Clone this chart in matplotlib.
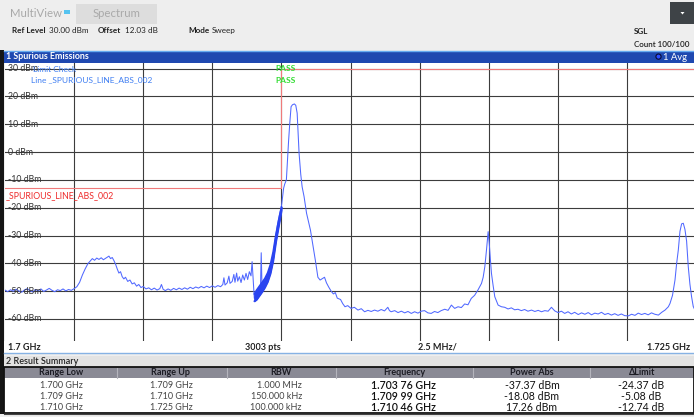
import numpy as np
import matplotlib
matplotlib.use("Agg")
import matplotlib.pyplot as plt
from matplotlib.patches import Rectangle, Circle, Polygon
from matplotlib.transforms import blended_transform_factory

plt.rcParams['font.family'] = ['Lato', 'DejaVu Sans']

# ---------------- data ----------------
start_ghz = 1.700
stop_ghz = 1.725
span_per_div_mhz = 2.5
ref_level = 30.0
y_ticks_dbm = [30, 20, 10, 0, -10, -20, -30, -40, -50, -60]

# trace: frequency offset from 1.700 GHz (MHz) and level (dBm)
trace_offset_mhz = [
    0.00, 0.10, 0.20, 0.30, 0.40, 0.50, 0.60, 0.70, 0.80, 0.90, 1.00, 1.10, 1.20, 1.30, 1.40,
    1.50, 1.60, 1.70, 1.80, 1.90, 2.00, 2.10, 2.20, 2.30, 2.40, 2.50, 2.60, 2.70, 2.80, 2.90,
    3.00, 3.08, 3.16, 3.24, 3.32, 3.40, 3.48, 3.56, 3.64, 3.70, 3.76, 3.82, 3.88, 3.94, 4.00,
    4.06, 4.12, 4.18, 4.24, 4.30, 4.36, 4.44, 4.52, 4.60, 4.68, 4.76, 4.84, 4.92, 5.00, 5.10,
    5.20, 5.30, 5.40, 5.50, 5.60, 5.66, 5.72, 5.80, 5.90, 6.00, 6.10, 6.20, 6.30, 6.40, 6.50,
    6.60, 6.70, 6.80, 6.90, 7.00, 7.10, 7.20, 7.30, 7.40, 7.50, 7.60, 7.70, 7.80, 7.88, 7.92,
    7.96, 8.04, 8.10, 8.14, 8.22, 8.28, 8.32, 8.38, 8.42, 8.48, 8.54, 8.60, 8.66, 8.72, 8.78,
    8.84, 8.90, 8.94, 8.98, 9.02, 9.10, 9.18, 9.24, 9.27, 9.30, 9.36, 9.44, 9.50, 9.60, 9.70,
    9.78, 9.86, 9.94, 10.00, 10.08, 10.12, 10.18, 10.22, 10.26, 10.30, 10.35, 10.40, 10.47,
    10.52, 10.57, 10.60, 10.64, 10.70, 10.75, 10.82, 10.91, 10.98, 11.05, 11.15, 11.23, 11.32,
    11.40, 11.48, 11.56, 11.63, 11.71, 11.80, 11.88, 11.95, 12.02, 12.14, 12.22, 12.30, 12.40,
    12.52, 12.64, 12.77, 12.89, 13.01, 13.13, 13.25, 13.37, 13.49, 13.61, 13.73, 13.85, 13.91,
    13.97, 14.10, 14.22, 14.34, 14.46, 14.58, 14.70, 14.82, 14.94, 15.06, 15.18, 15.30, 15.42,
    15.54, 15.66, 15.78, 15.91, 16.03, 16.15, 16.27, 16.39, 16.51, 16.63, 16.75, 16.87, 16.99,
    17.11, 17.24, 17.30, 17.36, 17.42, 17.48, 17.52, 17.56, 17.60, 17.66, 17.72, 17.84, 17.96,
    18.08, 18.20, 18.32, 18.44, 18.56, 18.68, 18.80, 18.92, 19.05, 19.17, 19.29, 19.41, 19.53,
    19.65, 19.77, 19.89, 20.01, 20.13, 20.25, 20.37, 20.49, 20.61, 20.74, 20.86, 20.98, 21.10,
    21.22, 21.34, 21.46, 21.58, 21.70, 21.82, 21.94, 22.06, 22.18, 22.30, 22.42, 22.55, 22.67,
    22.79, 22.91, 23.03, 23.15, 23.27, 23.39, 23.51, 23.64, 23.76, 23.88, 24.00, 24.06, 24.15,
    24.24, 24.30, 24.36, 24.42, 24.48, 24.54, 24.60, 24.66, 24.72, 24.78, 24.84, 24.90, 24.96,
    25.00,
]
trace_level_dbm = [
    -49.6, -50.2, -49.5, -50.0, -49.3, -49.9, -50.4, -49.6, -49.1, -49.8, -50.3, -49.4, -49.9, -49.2, -50.1,
    -49.6, -49.0, -49.7, -50.2, -49.5, -49.8, -49.2, -49.9, -49.4, -49.7, -49.1, -48.4, -46.8, -44.2, -42.0,
    -40.1, -39.2, -38.3, -38.9, -38.1, -38.6, -38.0, -38.7, -38.2, -37.8, -37.4, -38.3, -37.9, -39.0, -40.3,
    -42.0, -43.5, -43.0, -44.8, -45.6, -45.0, -46.5, -46.0, -47.4, -47.0, -48.2, -47.6, -48.7, -48.3, -49.2,
    -48.8, -49.5, -48.9, -49.6, -49.1, -47.6, -49.3, -49.8, -49.2, -49.7, -49.0, -49.5, -48.9, -49.4, -48.8,
    -49.3, -48.6, -49.1, -48.5, -48.9, -48.3, -48.8, -48.2, -48.7, -48.1, -48.6, -48.0, -48.4, -47.6, -45.2,
    -47.8, -47.0, -44.6, -47.2, -46.5, -44.0, -46.8, -43.5, -46.4, -44.8, -46.9, -44.2, -46.0, -43.6, -45.8,
    -43.0, -44.5, -39.4, -46.0, -52.6, -51.5, -50.6, -49.8, -36.2, -49.0, -48.2, -46.6, -44.8, -41.5, -37.0,
    -31.0, -26.0, -22.0, -19.7, -13.0, -11.5, -10.0, -3.0, 4.0, 10.0, 16.3, 17.0, 17.3,
    16.8, 14.0, 8.0, -0.5, -8.0, -12.5, -16.0, -22.0, -25.0, -28.0, -34.0, -39.0, -45.0,
    -46.0, -45.5, -45.0, -47.0, -48.5, -50.0, -51.0, -50.5, -52.5, -53.0, -54.5, -55.6, -55.2,
    -56.2, -55.8, -56.8, -56.3, -57.4, -56.9, -57.3, -56.8, -57.2, -56.6, -57.1, -55.8, -57.0,
    -57.4, -57.0, -57.7, -57.2, -57.8, -57.3, -58.0, -57.4, -57.9, -57.2, -57.0, -57.8, -58.0,
    -57.3, -57.7, -57.0, -56.5, -56.9, -55.0, -56.2, -55.6, -55.9, -54.6, -54.9, -52.6, -51.5,
    -49.6, -47.2, -45.0, -41.2, -35.2, -28.6, -32.8, -38.5, -43.6, -48.0, -52.0, -55.0, -55.6,
    -55.8, -56.4, -56.0, -56.7, -56.5, -57.0, -56.6, -57.2, -56.8, -57.3, -56.9, -57.4, -57.0,
    -57.2, -55.8, -57.1, -57.7, -57.2, -58.0, -57.4, -58.2, -57.6, -58.4, -57.8, -58.3, -57.7,
    -58.5, -57.9, -58.2, -57.6, -58.4, -58.0, -58.6, -58.1, -58.7, -58.2, -58.8, -58.9, -58.3,
    -58.7, -57.9, -58.4, -58.0, -58.5, -57.8, -58.3, -58.6, -57.6, -56.8, -55.6, -54.4, -51.5,
    -46.0, -40.0, -35.2, -28.5, -25.8, -25.6, -27.8, -32.0, -41.2, -47.5, -52.0, -55.5, -56.8,
    -57.2,
]

# dense (thick) part of the trace in the 150 kHz RBW range: envelope
dense_offset_mhz = [9.02, 9.10, 9.20, 9.30, 9.40, 9.50, 9.60, 9.70, 9.80, 9.90, 10.00]
dense_upper_dbm = [-51.0, -49.6, -48.2, -46.8, -45.4, -43.4, -40.4, -35.8, -29.6, -24.4, -19.7]
dense_lower_dbm = [-53.6, -53.0, -51.6, -50.2, -48.6, -46.6, -43.6, -39.0, -32.2, -26.6, -21.0]

# limit line
limit_offset_mhz = [0.0, 10.0, 10.0, 25.0]
limit_level_dbm = [-13.0, -13.0, 30.0, 30.0]

# result summary table
col_headers = ["Range Low", "Range Up", "RBW", "Frequency", "Power Abs", "\u0394Limit"]
range_low = ["1.700 GHz", "1.709 GHz", "1.710 GHz"]
range_up = ["1.709 GHz", "1.710 GHz", "1.725 GHz"]
rbw = ["1.000 MHz", "150.000 kHz", "100.000 kHz"]
frequency = ["1.703 76 GHz", "1.709 99 GHz", "1.710 46 GHz"]
power_abs = ["-37.37 dBm", "-18.08 dBm", "17.26 dBm"]
delta_limit = ["-24.37 dB", "-5.08 dB", "-12.74 dB"]

# ---------------- figure ----------------
W, H = 694, 417
fig = plt.figure(figsize=(W / 100, H / 100), dpi=100)

ui = fig.add_axes([0, 0, 1, 1], zorder=0)
ui.set_xlim(0, W)
ui.set_ylim(H, 0)
ui.axis("off")

ui_top = fig.add_axes([0, 0, 1, 1], zorder=3)
ui_top.set_xlim(0, W)
ui_top.set_ylim(H, 0)
ui_top.axis("off")

def rect(x, y, w, h, fc, ec="none", lw=0, z=1, ax=ui):
    ax.add_patch(Rectangle((x, y), w, h, facecolor=fc, edgecolor=ec, linewidth=lw, zorder=z))

def txt(x, y, s, ax=ui, **kw):
    kw.setdefault("va", "center")
    kw.setdefault("ha", "left")
    kw.setdefault("fontsize", 6.5)
    kw.setdefault("color", "#222222")
    kw.setdefault("zorder", 10)
    ax.text(x, y, s, **kw)

# backgrounds
rect(0, 0, W, H, "#eeeeee", z=0)
rect(76, 4, 81, 20, "#dddddd")
rect(64, 10, 6, 4, "#55c3f0")
rect(670, 2, 24, 22, "#3e4347")
ui.add_patch(Polygon([[680.5, 12], [684.5, 12], [682.5, 14.5]], closed=True, fc="white", ec="none", zorder=2))

txt(10, 13.5, "MultiView", fontsize=8.2, color="#a9a9a9")
txt(116.5, 13.5, "Spectrum", fontsize=8.2, color="#a9a9a9", ha="center")
txt(12, 30.5, "Ref Level", fontweight="bold", fontsize=5.9)
txt(49, 30.5, "30.00 dBm", fontsize=5.9)
txt(98, 30.5, "Offset", fontweight="bold", fontsize=5.9)
txt(125, 30.5, "12.03 dB", fontsize=5.9)
txt(188, 30.5, "Mode", fontweight="bold", fontsize=5.9)
txt(212, 30.5, "Sweep", fontsize=5.9)
txt(634, 31, "SGL", fontweight="bold", fontsize=5.9)
txt(634, 44, "Count 100/100", fontweight="semibold", fontsize=5.8)

# window 1 title bar
rect(0, 50, 4, 364, "#151515", z=2)
rect(4, 50.5, 690, 12, "#1f48b0")
ui.plot([4, 694], [50.8, 50.8], color="#66aaf0", lw=1.0, zorder=2)
txt(6, 56.8, "1 Spurious Emissions", color="white", fontweight="bold", fontsize=6.4)
ui.add_patch(Circle((658.5, 56.6), 2.6, facecolor="#2b4dff", edgecolor="#0a0a30", lw=0.8, zorder=3))
txt(663, 57, "1 Avg", color="white", fontsize=6.8)

# bottom strip of the diagram
rect(4, 341, 690, 12, "white")
ui.plot([4, 694], [353.2, 353.2], color="#86b2e4", lw=1.0, zorder=2)
txt(8, 347.2, "1.7 GHz", fontweight="bold")
txt(263, 347.2, "3003 pts", fontweight="bold", ha="center")
txt(437, 347.2, f"{span_per_div_mhz} MHz/", fontweight="bold", ha="center")
txt(690, 347.2, f"{stop_ghz} GHz", fontweight="bold", ha="right")

# result summary
rect(4, 356, 690, 11, "#e3e3e3")
txt(6, 361.5, "2 Result Summary", fontweight="semibold")
rect(4, 367, 690, 11, "#8a8a95")
rect(4, 378, 690, 34.5, "white")
ui.add_patch(Rectangle((4.5, 367), 690, 46, facecolor="none", edgecolor="#111111", lw=1.3, zorder=4))
ui.plot([4, 694], [413.8, 413.8], color="#444444", lw=0.8, zorder=4)
for sx in [117, 227, 336, 473, 590]:
    ui.plot([sx, sx], [367.5, 377.5], color="#b4b4bc", lw=0.8, zorder=3)
col_centers = [61, 171, 281, 404, 532, 642]
for cx, hname in zip(col_centers, col_headers):
    txt(cx, 372.6, hname, ha="center", fontweight="bold", color="#1c1c24")
row_y = [385.5, 396.5, 407.5]
for i, ry in enumerate(row_y):
    txt(61, ry, range_low[i], ha="center", color="#444444")
    txt(171, ry, range_up[i], ha="center", color="#444444")
    txt(302, ry, rbw[i], ha="right", color="#444444")
    txt(403, ry, frequency[i], ha="center", fontweight="semibold", fontsize=7.6, color="#111111")
    txt(532, ry, power_abs[i], ha="center", fontsize=7.6, color="#111111")
    txt(641, ry, delta_limit[i], ha="center", fontsize=7.6, color="#111111")

# ---------------- diagram ----------------
x_left_px, x_right_px = 5, 696
y_top_px, y_bot_px = 63, 341
px_per_db = 2.782
y30_px = 68.6
ymax = ref_level + (y30_px - y_top_px) / px_per_db
ymin = ref_level - (y_bot_px - y30_px) / px_per_db

ax = fig.add_axes([x_left_px / W, 1 - y_bot_px / H, (x_right_px - x_left_px) / W,
                   (y_bot_px - y_top_px) / H], zorder=2)
ax.set_facecolor("white")
ax.set_xlim(start_ghz, start_ghz + 10 * span_per_div_mhz / 1000)
ax.set_ylim(ymin, ymax)
ax.set_xticks([start_ghz + k * span_per_div_mhz / 1000 for k in range(1, 10)])
ax.set_yticks(y_ticks_dbm)
ax.tick_params(length=0, labelbottom=False, labelleft=False)
ax.grid(True, color="#3c3c3c", lw=0.8)
ax.set_axisbelow(True)
for s in ax.spines.values():
    s.set_visible(False)

f = start_ghz + np.array(trace_offset_mhz) / 1000
ax.plot(f, trace_level_dbm, color="#5068ff", lw=0.75, zorder=3)
fd = start_ghz + np.array(dense_offset_mhz) / 1000
ax.fill_between(fd, dense_lower_dbm, dense_upper_dbm, color="#2a44f0", lw=0.9, zorder=3)
ax.plot(fd, dense_upper_dbm, color="#2a44f0", lw=1.1, zorder=3)
ax.plot(fd, dense_lower_dbm, color="#2a44f0", lw=1.1, zorder=3)

fl = start_ghz + np.array(limit_offset_mhz) / 1000
ax.plot(fl, limit_level_dbm, color="#f07a7a", lw=0.8, zorder=2.5)

tr = blended_transform_factory(ax.transAxes, ax.transData)
for v in y_ticks_dbm:
    ax.text(3 / (x_right_px - x_left_px), v, f"{v} dBm", transform=tr, ha="left", va="center",
            fontsize=6.3, color="#333333", zorder=4)

# limit check annotations (above diagram)
txt(33, 69.3, "Limit Check", ax=ui_top, color="#3f7ef2", fontsize=6.0)
txt(31, 80, "Line _SPURIOUS_LINE_ABS_002", ax=ui_top, color="#3f7ef2", fontsize=6.0)
txt(275, 68.5, "PASS", ax=ui_top, color="#33dd33", fontweight="bold", fontsize=6.0)
txt(275, 80, "PASS", ax=ui_top, color="#33dd33", fontweight="bold", fontsize=6.0)
ax.text(1 / (x_right_px - x_left_px), limit_level_dbm[0] - 1.0, "_SPURIOUS_LINE_ABS_002",
        transform=tr, ha="left", va="top", fontsize=6.3, color="#ee2a2a", zorder=4)

fig.savefig("out.png", dpi=100)
